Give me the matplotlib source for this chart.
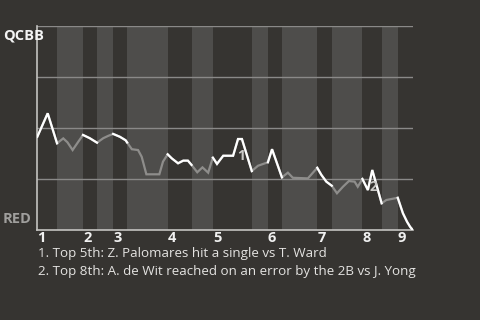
import numpy as np
import matplotlib
matplotlib.use("Agg")
import matplotlib.pyplot as plt
import matplotlib.transforms as mtransforms

# win probability for QCBB (1 = QCBB, 0 = RED), by play
play_x = [0, 2.0, 3.8, 5.0, 5.8, 6.8, 7.9, 8.8, 10.1, 11.5, 12.7, 13.7, 14.6,
          15.9, 17.0, 17.3, 18.2, 19.4, 20.1, 21.0, 23.5, 24.2, 25.1, 25.9,
          27.1, 28.1, 29.0, 29.7, 30.8, 31.8, 32.9, 33.8, 34.6, 35.8, 37.7,
          38.65, 39.4, 41.3, 42.5, 44.4, 45.2, 47.1, 48.25, 49.2, 52.1, 53.9,
          54.7, 55.65, 56.7, 57.7, 58.85, 60.0, 61.1, 61.7, 62.6, 63.65, 64.5,
          66.3, 67.2, 69.4, 70.4, 71.2, 71.8, 72.3]
qcbb_wp = [0.457, 0.572, 0.425, 0.449, 0.430, 0.392, 0.433, 0.466, 0.450,
           0.428, 0.450, 0.462, 0.471, 0.457, 0.440, 0.429, 0.396, 0.392,
           0.359, 0.273, 0.273, 0.335, 0.371, 0.351, 0.327, 0.340, 0.340,
           0.319, 0.283, 0.307, 0.281, 0.355, 0.324, 0.364, 0.364, 0.446,
           0.446, 0.289, 0.315, 0.332, 0.396, 0.258, 0.281, 0.256, 0.253,
           0.305, 0.270, 0.237, 0.217, 0.180, 0.212, 0.240, 0.237, 0.212,
           0.250, 0.196, 0.294, 0.131, 0.147, 0.158, 0.082, 0.040, 0.015, 0.0]

# start of each half inning (top 1 .. top 9) and end of game
half_bounds = [0, 3.8, 8.8, 11.5, 14.6, 17.3, 25.1, 29.7, 33.8, 41.3, 44.4,
               47.1, 53.9, 56.7, 62.6, 66.3, 69.4, 72.3]
innings = ["1", "2", "3", "4", "5", "6", "7", "8", "9"]

# key plays
key_x = [39.2, 64.8]
key_wp = [0.446, 0.294]
key_labels = ["1", "2"]
notes = ["1. Top 5th: Z. Palomares hit a single vs T. Ward",
         "2. Top 8th: A. de Wit reached on an error by the 2B vs J. Yong"]

bg = "#363431"
plt.rcParams['font.family'] = ['Open Sans', 'DejaVu Sans']

fig = plt.figure(figsize=(4.8, 3.2), dpi=100, facecolor=bg)
ax = fig.add_axes([0.0777, 0.28125, 0.7823, 0.6375], facecolor=bg)

x = np.array(play_x)
y = np.array(qcbb_wp)

# shade bottom halves
for i in range(1, len(half_bounds) - 1, 2):
    ax.axvspan(half_bounds[i], half_bounds[i + 1], color="#4e4d4b", lw=0, zorder=0)

for g in [0.25, 0.5, 0.75, 1.0]:
    ax.axhline(g, color="#8a8988", lw=1, zorder=1)

# whole line in grey, top halves over it in white
ax.plot(x, y, color="#8e8d8b", lw=1.6, zorder=2, solid_joinstyle="miter")
for i in range(0, len(half_bounds) - 1, 2):
    m = (x >= half_bounds[i] - 1e-6) & (x <= half_bounds[i + 1] + 1e-6)
    ax.plot(x[m], y[m], color="white", lw=1.6, zorder=3, solid_joinstyle="miter")

for kx, ky, kl in zip(key_x, key_wp, key_labels):
    ax.annotate(kl, (kx, ky), xytext=(0, -12), textcoords="offset points",
                ha="center", va="center", color="#cac9c7", fontsize=10,
                fontweight="bold", zorder=4)

ax.set_xlim(0, half_bounds[-1])
ax.set_ylim(0, 1)
for s in ["top", "right"]:
    ax.spines[s].set_visible(False)
for s in ["left", "bottom"]:
    ax.spines[s].set_color("#c4c3c1")
    ax.spines[s].set_linewidth(1.2)

ax.set_yticks([])
ax.set_xticks(half_bounds[0:-1:2])
ax.set_xticklabels(innings, ha="left", color="#f0f0f0", fontsize=10.5,
                   fontweight="bold")
ax.tick_params(axis="x", length=0, pad=1)

lab_tr = mtransforms.blended_transform_factory(fig.transFigure, ax.transAxes)
ax.text(3 / 480, 0.99, "QCBB", transform=lab_tr, ha="left", va="top",
        color="#f4f4f4", fontsize=10.5, fontweight="bold")
ax.text(3 / 480, 0.02, "RED", transform=lab_tr, ha="left", va="bottom",
        color="#a09f9d", fontsize=10.5, fontweight="bold")

for k, note in enumerate(notes):
    fig.text(38 / 480, 1 - (254 + 18 * k) / 320, note, ha="left", va="center",
             color="#e4e3e1", fontsize=9.6)

fig.savefig("out.png", dpi=100, facecolor=bg)
